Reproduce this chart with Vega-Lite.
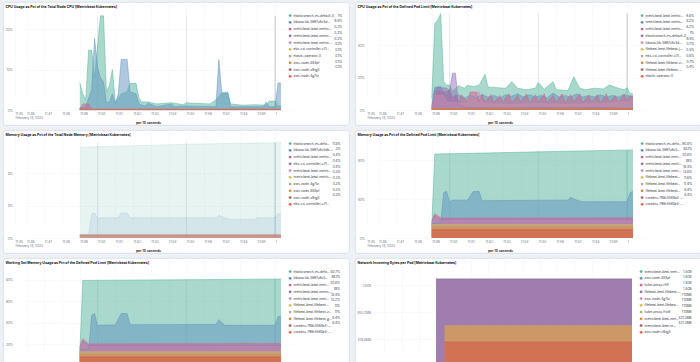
{
  "$schema": "https://vega.github.io/schema/vega-lite/v6.json",
  "background": "#eef1f5",
  "padding": {"left": 2, "right": 2, "top": 1, "bottom": 0},
  "spacing": 3,
  "resolve": {"scale": {"color": "independent", "shape": "independent"}, "legend": {"color": "independent", "shape": "independent"}},
  "config": {
    "font": "Inter",
    "view": {"fill": "#ffffff", "stroke": "#d3dae6", "strokeWidth": 0.8, "cornerRadius": 3},
    "title": {"anchor": "start", "frame": "group", "offset": -6.5, "dx": 2.5, "fontSize": 3.5, "fontWeight": "bold", "color": "#1a1c21", "font": "Inter"},
    "axis": {"domain": false, "ticks": false, "grid": true, "gridColor": "#dfe5ee", "gridDash": [1, 1.5], "gridWidth": 0.5, "labelFontSize": 3.2, "labelColor": "#69707d", "labelFont": "Inter", "titleFont": "Inter"},
    "axisX": {"offset": -15, "labelAlign": "left", "labelBaseline": "top", "labelPadding": 1.5, "labelLineHeight": 3.8, "labelOverlap": false, "labelFlush": false, "titleFontSize": 3.4, "titleFontWeight": "bold", "titleColor": "#343741", "titleY": 12.5, "titleBaseline": "middle"},
    "axisY": {"offset": -12, "labelPadding": 2.5},
    "legend": {"labelFontSize": 3.2, "labelColor": "#343741", "labelFont": "Inter", "rowPadding": 1.75, "padding": 0, "labelLimit": 200, "symbolSize": 8, "symbolType": "circle", "symbolStrokeWidth": 0, "labelOffset": 1.9}
  },
  "datasets": {
    "p1": [
      {"s":"es","t":2940,"v":6.8},{"s":"es","t":2950,"v":4},{"s":"es","t":2960,"v":2.5},{"s":"es","t":2970,"v":14.8},{"s":"es","t":2980,"v":14.8},{"s":"es","t":2990,"v":8},{"s":"es","t":3010,"v":23.3},{"s":"es","t":3020,"v":23.3},{"s":"es","t":3030,"v":4.5},{"s":"es","t":3040,"v":6},{"s":"es","t":3050,"v":10},{"s":"es","t":3060,"v":2},{"s":"es","t":3070,"v":3},{"s":"es","t":3080,"v":4},{"s":"es","t":3100,"v":4.5},{"s":"es","t":3110,"v":6.6},{"s":"es","t":3130,"v":6.6},{"s":"es","t":3140,"v":3},{"s":"es","t":3150,"v":2},{"s":"es","t":3170,"v":2},{"s":"es","t":3200,"v":1.5},{"s":"es","t":3250,"v":1.8},{"s":"es","t":3290,"v":1.3},{"s":"es","t":3300,"v":1.8},{"s":"es","t":3350,"v":1.6},{"s":"es","t":3380,"v":1.5},{"s":"es","t":3400,"v":2.5},{"s":"es","t":3420,"v":4.3},{"s":"es","t":3440,"v":4.4},{"s":"es","t":3450,"v":1.5},{"s":"es","t":3490,"v":1.2},{"s":"es","t":3530,"v":1.3},{"s":"es","t":3570,"v":1.2},{"s":"es","t":3580,"v":2.2},{"s":"es","t":3600,"v":2.2},{"s":"es","t":3610,"v":1},{"s":"es","t":3620,"v":1},
      {"s":"kb","t":2940,"v":0.5},{"s":"kb","t":2960,"v":0.8},{"s":"kb","t":2970,"v":3},{"s":"kb","t":2980,"v":5},{"s":"kb","t":2990,"v":17.7},{"s":"kb","t":3000,"v":10.5},{"s":"kb","t":3010,"v":8},{"s":"kb","t":3020,"v":7},{"s":"kb","t":3030,"v":1.8},{"s":"kb","t":3040,"v":2},{"s":"kb","t":3050,"v":4},{"s":"kb","t":3060,"v":1.5},{"s":"kb","t":3070,"v":4},{"s":"kb","t":3080,"v":12.5},{"s":"kb","t":3100,"v":12.5},{"s":"kb","t":3110,"v":4.5},{"s":"kb","t":3130,"v":4},{"s":"kb","t":3140,"v":1.5},{"s":"kb","t":3160,"v":1},{"s":"kb","t":3170,"v":1.7},{"s":"kb","t":3200,"v":0.8},{"s":"kb","t":3250,"v":1.5},{"s":"kb","t":3260,"v":0.8},{"s":"kb","t":3300,"v":1},{"s":"kb","t":3400,"v":0.8},{"s":"kb","t":3410,"v":12.5},{"s":"kb","t":3420,"v":4},{"s":"kb","t":3440,"v":4.2},{"s":"kb","t":3450,"v":0.8},{"s":"kb","t":3560,"v":0.8},{"s":"kb","t":3570,"v":2},{"s":"kb","t":3580,"v":0.8},{"s":"kb","t":3600,"v":0.8},{"s":"kb","t":3610,"v":6.7},{"s":"kb","t":3620,"v":6.7},
      {"s":"mb1","t":2940,"v":0.3},{"s":"mb1","t":2950,"v":1.5},{"s":"mb1","t":2970,"v":1.5},{"s":"mb1","t":2980,"v":0.2},{"s":"mb1","t":3620,"v":0.2},
      {"s":"mb2","t":2940,"v":0.2},{"s":"mb2","t":3620,"v":0.2},
      {"s":"mb3","t":2940,"v":0.2},{"s":"mb3","t":3620,"v":0.2},
      {"s":"ebs","t":2940,"v":0.1},{"s":"ebs","t":3620,"v":0.1},
      {"s":"eo","t":2940,"v":0.1},{"s":"eo","t":3620,"v":0.1},
      {"s":"aws884","t":2940,"v":0.1},{"s":"aws884","t":3620,"v":0.1},
      {"s":"awss9","t":2940,"v":0.1},{"s":"awss9","t":3620,"v":0.1},
      {"s":"aws4g","t":2940,"v":0.1},{"s":"aws4g","t":3620,"v":0.1}
    ],
    "p2": [
      {"s":"mb1","t":2940,"v":7},{"s":"mb1","t":2950,"v":53.5},{"s":"mb1","t":2960,"v":55.5},{"s":"mb1","t":2970,"v":59.6},{"s":"mb1","t":2980,"v":17.5},{"s":"mb1","t":2990,"v":15.4},{"s":"mb1","t":3000,"v":15.5},{"s":"mb1","t":3010,"v":11.5},{"s":"mb1","t":3030,"v":15},{"s":"mb1","t":3050,"v":13.5},{"s":"mb1","t":3060,"v":15.3},{"s":"mb1","t":3080,"v":14.5},{"s":"mb1","t":3100,"v":15.3},{"s":"mb1","t":3120,"v":22},{"s":"mb1","t":3130,"v":14.3},{"s":"mb1","t":3160,"v":13.8},{"s":"mb1","t":3190,"v":13.5},{"s":"mb1","t":3210,"v":17.5},{"s":"mb1","t":3230,"v":13.5},{"s":"mb1","t":3260,"v":12.5},{"s":"mb1","t":3290,"v":13.5},{"s":"mb1","t":3300,"v":17},{"s":"mb1","t":3320,"v":12.8},{"s":"mb1","t":3350,"v":17.5},{"s":"mb1","t":3360,"v":12.5},{"s":"mb1","t":3400,"v":12},{"s":"mb1","t":3420,"v":20.6},{"s":"mb1","t":3440,"v":13.5},{"s":"mb1","t":3460,"v":12.5},{"s":"mb1","t":3490,"v":13.5},{"s":"mb1","t":3520,"v":13},{"s":"mb1","t":3540,"v":15.4},{"s":"mb1","t":3570,"v":13.5},{"s":"mb1","t":3590,"v":12.5},{"s":"mb1","t":3600,"v":13.8},{"s":"mb1","t":3610,"v":10.3},{"s":"mb1","t":3620,"v":9.8},
      {"s":"mb2","t":2940,"v":3},{"s":"mb2","t":2950,"v":14},{"s":"mb2","t":2970,"v":14.5},{"s":"mb2","t":2990,"v":9},{"s":"mb2","t":3000,"v":13},{"s":"mb2","t":3010,"v":8},{"s":"mb2","t":3030,"v":9.5},{"s":"mb2","t":3050,"v":7.5},{"s":"mb2","t":3070,"v":9},{"s":"mb2","t":3090,"v":7.5},{"s":"mb2","t":3110,"v":9.5},{"s":"mb2","t":3130,"v":8},{"s":"mb2","t":3150,"v":9},{"s":"mb2","t":3170,"v":7.5},{"s":"mb2","t":3190,"v":9.5},{"s":"mb2","t":3210,"v":8.5},{"s":"mb2","t":3230,"v":10},{"s":"mb2","t":3250,"v":8},{"s":"mb2","t":3270,"v":9.5},{"s":"mb2","t":3290,"v":8},{"s":"mb2","t":3310,"v":9},{"s":"mb2","t":3330,"v":7.5},{"s":"mb2","t":3350,"v":10.5},{"s":"mb2","t":3370,"v":8},{"s":"mb2","t":3390,"v":9},{"s":"mb2","t":3410,"v":8},{"s":"mb2","t":3430,"v":10},{"s":"mb2","t":3450,"v":8},{"s":"mb2","t":3470,"v":9},{"s":"mb2","t":3490,"v":8},{"s":"mb2","t":3510,"v":9.5},{"s":"mb2","t":3530,"v":8},{"s":"mb2","t":3550,"v":9},{"s":"mb2","t":3570,"v":8},{"s":"mb2","t":3590,"v":9.5},{"s":"mb2","t":3610,"v":8.5},{"s":"mb2","t":3620,"v":8.2},
      {"s":"mb3","t":2940,"v":2},{"s":"mb3","t":2950,"v":8},{"s":"mb3","t":2960,"v":12},{"s":"mb3","t":2980,"v":11},{"s":"mb3","t":3000,"v":12},{"s":"mb3","t":3010,"v":5},{"s":"mb3","t":3020,"v":10},{"s":"mb3","t":3030,"v":4.5},{"s":"mb3","t":3040,"v":9.5},{"s":"mb3","t":3060,"v":5},{"s":"mb3","t":3070,"v":11},{"s":"mb3","t":3090,"v":11},{"s":"mb3","t":3100,"v":5},{"s":"mb3","t":3110,"v":10},{"s":"mb3","t":3120,"v":5},{"s":"mb3","t":3140,"v":9.5},{"s":"mb3","t":3150,"v":4.5},{"s":"mb3","t":3170,"v":9},{"s":"mb3","t":3180,"v":5},{"s":"mb3","t":3200,"v":10},{"s":"mb3","t":3210,"v":4.5},{"s":"mb3","t":3230,"v":9},{"s":"mb3","t":3240,"v":5},{"s":"mb3","t":3260,"v":10},{"s":"mb3","t":3270,"v":4.5},{"s":"mb3","t":3290,"v":9.5},{"s":"mb3","t":3300,"v":5},{"s":"mb3","t":3320,"v":10},{"s":"mb3","t":3330,"v":4.5},{"s":"mb3","t":3350,"v":9},{"s":"mb3","t":3360,"v":5},{"s":"mb3","t":3380,"v":10},{"s":"mb3","t":3390,"v":4.5},{"s":"mb3","t":3410,"v":9.5},{"s":"mb3","t":3420,"v":5},{"s":"mb3","t":3440,"v":10},{"s":"mb3","t":3450,"v":4.5},{"s":"mb3","t":3470,"v":9},{"s":"mb3","t":3480,"v":5},{"s":"mb3","t":3500,"v":9.5},{"s":"mb3","t":3510,"v":4.5},{"s":"mb3","t":3530,"v":10},{"s":"mb3","t":3540,"v":5},{"s":"mb3","t":3560,"v":9},{"s":"mb3","t":3570,"v":4.5},{"s":"mb3","t":3590,"v":10},{"s":"mb3","t":3600,"v":5},{"s":"mb3","t":3610,"v":9},{"s":"mb3","t":3620,"v":8.2},
      {"s":"es","t":2940,"v":1},{"s":"es","t":2950,"v":12},{"s":"es","t":2960,"v":14},{"s":"es","t":2990,"v":13.5},{"s":"es","t":3000,"v":12},{"s":"es","t":3010,"v":22.8},{"s":"es","t":3020,"v":22.8},{"s":"es","t":3030,"v":3},{"s":"es","t":3060,"v":1.5},{"s":"es","t":3200,"v":1.2},{"s":"es","t":3300,"v":1.5},{"s":"es","t":3400,"v":1.2},{"s":"es","t":3500,"v":1.5},{"s":"es","t":3620,"v":1},
      {"s":"kb","t":2940,"v":1},{"s":"kb","t":2950,"v":9},{"s":"kb","t":2980,"v":9},{"s":"kb","t":2990,"v":5},{"s":"kb","t":3060,"v":4},{"s":"kb","t":3070,"v":11},{"s":"kb","t":3100,"v":11},{"s":"kb","t":3110,"v":4},{"s":"kb","t":3200,"v":3.5},{"s":"kb","t":3300,"v":4},{"s":"kb","t":3400,"v":3.5},{"s":"kb","t":3500,"v":4},{"s":"kb","t":3600,"v":5},{"s":"kb","t":3620,"v":6.5},
      {"s":"fbj","t":2940,"v":0.7},{"s":"fbj","t":3620,"v":0.7},
      {"s":"ebs","t":2940,"v":0.5},{"s":"ebs","t":3620,"v":0.5},
      {"s":"fbz","t":2940,"v":0.8},{"s":"fbz","t":3620,"v":0.8},
      {"s":"fbx","t":2940,"v":0.7},{"s":"fbx","t":3620,"v":0.7},
      {"s":"eo","t":2940,"v":0.4},{"s":"eo","t":3620,"v":0.4}
    ],
    "p3": [
      {"s":"es","t":2940,"v":11.2},{"s":"es","t":3000,"v":11.3},{"s":"es","t":3300,"v":11.6},{"s":"es","t":3620,"v":11.8},
      {"s":"kb","t":2940,"v":0.4},{"s":"kb","t":2970,"v":0.4},{"s":"kb","t":2980,"v":3},{"s":"kb","t":2990,"v":3.1},{"s":"kb","t":3000,"v":2.4},{"s":"kb","t":3010,"v":2.5},{"s":"kb","t":3070,"v":2.5},{"s":"kb","t":3080,"v":3.1},{"s":"kb","t":3100,"v":3.1},{"s":"kb","t":3110,"v":2.5},{"s":"kb","t":3400,"v":2.5},{"s":"kb","t":3410,"v":2.8},{"s":"kb","t":3430,"v":2.5},{"s":"kb","t":3450,"v":2.3},{"s":"kb","t":3530,"v":2.3},{"s":"kb","t":3540,"v":2.5},{"s":"kb","t":3600,"v":2.5},{"s":"kb","t":3610,"v":3},{"s":"kb","t":3620,"v":3},
      {"s":"mb1","t":2940,"v":0.45},{"s":"mb1","t":3620,"v":0.45},
      {"s":"ebs","t":2940,"v":0.4},{"s":"ebs","t":3620,"v":0.4},
      {"s":"mb2","t":2940,"v":0.4},{"s":"mb2","t":3620,"v":0.4},
      {"s":"mb3","t":2940,"v":0.35},{"s":"mb3","t":3620,"v":0.35},
      {"s":"aws4g","t":2940,"v":0.3},{"s":"aws4g","t":3620,"v":0.3},
      {"s":"aws884","t":2940,"v":0.3},{"s":"aws884","t":3620,"v":0.3},
      {"s":"awss9","t":2940,"v":0.3},{"s":"awss9","t":3620,"v":0.3},
      {"s":"ebs2","t":2940,"v":0.3},{"s":"ebs2","t":3620,"v":0.3}
    ],
    "p4": [
      {"s":"es","t":2940,"v":12},{"s":"es","t":2950,"v":86.5},{"s":"es","t":3300,"v":88.8},{"s":"es","t":3620,"v":90.8},
      {"s":"kb","t":2940,"v":15},{"s":"kb","t":2970,"v":15},{"s":"kb","t":2980,"v":46.7},{"s":"kb","t":2990,"v":48},{"s":"kb","t":3000,"v":37.4},{"s":"kb","t":3010,"v":39},{"s":"kb","t":3060,"v":39},{"s":"kb","t":3080,"v":48},{"s":"kb","t":3100,"v":48},{"s":"kb","t":3110,"v":38.5},{"s":"kb","t":3400,"v":39},{"s":"kb","t":3410,"v":42},{"s":"kb","t":3430,"v":39},{"s":"kb","t":3450,"v":37.4},{"s":"kb","t":3600,"v":37.4},{"s":"kb","t":3610,"v":46.7},{"s":"kb","t":3620,"v":48.1},
      {"s":"mb1","t":2940,"v":18},{"s":"mb1","t":2950,"v":25},{"s":"mb1","t":2970,"v":21},{"s":"mb1","t":2980,"v":20.5},{"s":"mb1","t":3620,"v":20.8},
      {"s":"mb2","t":2940,"v":17},{"s":"mb2","t":2950,"v":23},{"s":"mb2","t":2970,"v":19},{"s":"mb2","t":3620,"v":19},
      {"s":"mb3","t":2940,"v":16},{"s":"mb3","t":2950,"v":22},{"s":"mb3","t":2970,"v":18.5},{"s":"mb3","t":3620,"v":18.5},
      {"s":"fb1","t":2940,"v":13.8},{"s":"fb1","t":3620,"v":13.8},
      {"s":"fb2","t":2940,"v":11.6},{"s":"fb2","t":3620,"v":11.6},
      {"s":"fb3","t":2940,"v":11.4},{"s":"fb3","t":3620,"v":11.4},
      {"s":"cd1","t":2940,"v":8.4},{"s":"cd1","t":3620,"v":8.4},
      {"s":"cd2","t":2940,"v":8.4},{"s":"cd2","t":3620,"v":8.4}
    ],
    "p5": [
      {"s":"es","t":2940,"v":11},{"s":"es","t":2950,"v":79.4},{"s":"es","t":3620,"v":80.7},
      {"s":"kb","t":2940,"v":15},{"s":"kb","t":2970,"v":15},{"s":"kb","t":2980,"v":47},{"s":"kb","t":2990,"v":48.6},{"s":"kb","t":3000,"v":37.3},{"s":"kb","t":3010,"v":38},{"s":"kb","t":3060,"v":38},{"s":"kb","t":3080,"v":48.6},{"s":"kb","t":3100,"v":48.6},{"s":"kb","t":3110,"v":38.3},{"s":"kb","t":3400,"v":38.5},{"s":"kb","t":3410,"v":43},{"s":"kb","t":3430,"v":37.7},{"s":"kb","t":3600,"v":37.7},{"s":"kb","t":3610,"v":46},{"s":"kb","t":3620,"v":46.1},
      {"s":"mb1","t":2940,"v":18},{"s":"mb1","t":2950,"v":25.3},{"s":"mb1","t":2970,"v":20.5},{"s":"mb1","t":3620,"v":20.8},
      {"s":"mb2","t":2940,"v":17},{"s":"mb2","t":2950,"v":23},{"s":"mb2","t":2970,"v":19},{"s":"mb2","t":3620,"v":19},
      {"s":"mb3","t":2940,"v":16},{"s":"mb3","t":2950,"v":22},{"s":"mb3","t":2970,"v":18.5},{"s":"mb3","t":3620,"v":18.5},
      {"s":"fb1","t":2940,"v":13.2},{"s":"fb1","t":3620,"v":13.2},
      {"s":"fbz","t":2940,"v":11},{"s":"fbz","t":3620,"v":11},
      {"s":"fbg","t":2940,"v":11},{"s":"fbg","t":3620,"v":11},
      {"s":"cd1","t":2940,"v":8.4},{"s":"cd1","t":3620,"v":8.4},
      {"s":"cd2","t":2940,"v":8.4},{"s":"cd2","t":3620,"v":8.4}
    ],
    "p6": [
      {"s":"mbm","t":2940,"v":1610612736},{"s":"mbm","t":3620,"v":1610612736},
      {"s":"aws884","t":2940,"v":1610612736},{"s":"aws884","t":3620,"v":1610612736},
      {"s":"kpr","t":2940,"v":1610612736},{"s":"kpr","t":3620,"v":1610612736},
      {"s":"fb","t":2940,"v":1610612736},{"s":"fb","t":3620,"v":1610612736},
      {"s":"aws4g","t":2970,"v":744488960},{"s":"aws4g","t":3620,"v":744488960},
      {"s":"fb2","t":2970,"v":744488960},{"s":"fb2","t":3620,"v":744488960},
      {"s":"kpf","t":2970,"v":744488960},{"s":"kpf","t":3620,"v":744488960},
      {"s":"mbm2","t":2970,"v":744488960},{"s":"mbm2","t":3620,"v":744488960},
      {"s":"mbm3","t":2970,"v":441764659},{"s":"mbm3","t":3620,"v":441764659},
      {"s":"awss9","t":2970,"v":441764659},{"s":"awss9","t":3620,"v":441764659}
    ]
  },
  "vconcat": [
    {"spacing": 4, "resolve": {"scale": {"color": "independent", "shape": "independent"}, "legend": {"color": "independent", "shape": "independent"}}, "hconcat": [
      {
        "width": 346, "height": 123,
        "title": "CPU Usage as Pct of the Total Node CPU [Metricbeat Kubernetes]",
        "data": {"name": "p1"},
        "encoding": {"x": {"field": "t", "type": "quantitative", "scale": {"domain": [2721, 3620], "range": [12, 278]}, "axis": {"values": [2721,2760,2820,2880,2940,3000,3060,3120,3180,3240,3300,3360,3420,3480,3540,3600], "labelExpr": "datum.value==2721?['11:45','February 14, 2023']:datum.value==3600?'1':'11:'+datum.value/60", "title": "per 10 seconds"}}},
        "layer": [
          {"data": {"values": [{"t":3000},{"t":3300},{"t":3600}]}, "mark": {"type": "rule", "strokeWidth": 0.6}, "encoding": {"y": {"datum": 0}, "y2": {"datum": 23.3}, "color": {"condition": {"test": "datum.t==3600", "value": "#98a2b3"}, "value": "#d3dae6"}}},
          {"mark": {"type": "area", "fillOpacity": 0.5, "line": {"strokeWidth": 0.5}},
           "encoding": {
             "y": {"field": "v", "type": "quantitative", "stack": null, "scale": {"domain": [0, 23.3], "range": [108, 11]}, "axis": {"values": [0,5,10,15,20], "labelExpr": "datum.value+'%'", "title": null}},
             "color": {"field": "s", "type": "nominal", "scale": {"domain": ["es","kb","mb1","mb2","mb3","ebs","eo","aws884","awss9","aws4g"], "range": ["#54B399","#6092C0","#D36086","#9170B8","#CA8EAE","#D6BF57","#B9A888","#DA8B45","#AA6556","#E7664C"]},
               "legend": {"orient": "none", "legendX": 285.5, "legendY": 12, "title": null, "labelExpr": "({'es':'elasticsearch-es-default-0','kb':'kibana-kb-5697c6c5d…','mb1':'metricbeat-beat-metric…','mb2':'metricbeat-beat-metric…','mb3':'metricbeat-beat-metric…','ebs':'ebs-csi-controller-c7f…','eo':'elastic-operator-0','aws884':'aws-node-884pf','awss9':'aws-node-s9vg5','aws4g':'aws-node-4g7tz'})[datum.label]"}}
           }},
          {"mark": {"type": "point", "opacity": 0},
           "encoding": {
             "y": {"field": "v", "type": "quantitative"},
             "shape": {"field": "s", "type": "nominal", "scale": {"domain": ["aws4g","awss9","aws884","eo","ebs","mb3","mb2","mb1","kb","es"]},
               "legend": {"orient": "none", "legendX": 336, "legendY": 12, "title": null, "values": ["es","kb","mb1","mb2","mb3","ebs","eo","aws884","awss9","aws4g"], "labelAlign": "right", "labelOffset": 0, "symbolSize": 0, "labelExpr": "({'es':'1%','kb':'6.5%','mb1':'0.2%','mb2':'0.2%','mb3':'0.2%','ebs':'0.1%','eo':'0.1%','aws884':'0.1%','awss9':'0.1%','aws4g':'0.1%'})[datum.label]"}}
           }}
        ]
      },
      {
        "width": 346, "height": 123,
        "title": "CPU Usage as Pct of the Defined Pod Limit [Metricbeat Kubernetes]",
        "data": {"name": "p2"},
        "encoding": {"x": {"field": "t", "type": "quantitative", "scale": {"domain": [2721, 3620], "range": [12, 278]}, "axis": {"values": [2721,2760,2820,2880,2940,3000,3060,3120,3180,3240,3300,3360,3420,3480,3540,3600], "labelExpr": "datum.value==2721?['11:45','February 14, 2023']:datum.value==3600?'1':'11:'+datum.value/60", "title": "per 10 seconds"}}},
        "layer": [
          {"data": {"values": [{"t":3000},{"t":3300},{"t":3600}]}, "mark": {"type": "rule", "strokeWidth": 0.6}, "encoding": {"y": {"datum": 0}, "y2": {"datum": 59.6}, "color": {"condition": {"test": "datum.t==3600", "value": "#98a2b3"}, "value": "#d3dae6"}}},
          {"mark": {"type": "area", "fillOpacity": 0.5, "line": {"strokeWidth": 0.5}},
           "encoding": {
             "y": {"field": "v", "type": "quantitative", "stack": null, "scale": {"domain": [0, 59.6], "range": [108, 11]}, "axis": {"values": [0,10,20,30,40,50], "labelExpr": "datum.value+'%'", "title": null}},
             "color": {"field": "s", "type": "nominal", "scale": {"domain": ["mb1","mb2","mb3","es","kb","fbj","ebs","fbz","fbx","eo"], "range": ["#54B399","#6092C0","#D36086","#9170B8","#CA8EAE","#D6BF57","#B9A888","#DA8B45","#AA6556","#E7664C"]},
               "legend": {"orient": "none", "legendX": 285.5, "legendY": 12, "title": null, "labelExpr": "({'mb1':'metricbeat-beat-metric…','mb2':'metricbeat-beat-metric…','mb3':'metricbeat-beat-metric…','es':'elasticsearch-es-default-0','kb':'kibana-kb-5697c6c5d…','fbj':'filebeat-beat-filebeat-j…','ebs':'ebs-csi-controller-c7f…','fbz':'filebeat-beat-filebeat-z…','fbx':'filebeat-beat-filebeat-…','eo':'elastic-operator-0'})[datum.label]"}}
           }},
          {"mark": {"type": "point", "opacity": 0},
           "encoding": {
             "y": {"field": "v", "type": "quantitative"},
             "shape": {"field": "s", "type": "nominal", "scale": {"domain": ["eo","fbx","fbz","ebs","fbj","kb","es","mb3","mb2","mb1"]},
               "legend": {"orient": "none", "legendX": 336, "legendY": 12, "title": null, "values": ["mb1","mb2","mb3","es","kb","fbj","ebs","fbz","fbx","eo"], "labelAlign": "right", "labelOffset": 0, "symbolSize": 0, "labelExpr": "({'mb1':'9.8%','mb2':'8.2%','mb3':'8.2%','es':'1%','kb':'6.5%','fbj':'0.7%','ebs':'0.5%','fbz':'0.8%','fbx':'0.7%','eo':'0.4%'})[datum.label]"}}
           }}
        ]
      }
    ]},
    {"spacing": 4, "resolve": {"scale": {"color": "independent", "shape": "independent"}, "legend": {"color": "independent", "shape": "independent"}}, "hconcat": [
      {
        "width": 346, "height": 123,
        "title": "Memory Usage as Pct of the Total Node Memory [Metricbeat Kubernetes]",
        "data": {"name": "p3"},
        "encoding": {"x": {"field": "t", "type": "quantitative", "scale": {"domain": [2721, 3620], "range": [12, 278]}, "axis": {"values": [2721,2760,2820,2880,2940,3000,3060,3120,3180,3240,3300,3360,3420,3480,3540,3600], "labelExpr": "datum.value==2721?['11:45','February 14, 2023']:datum.value==3600?'1':'11:'+datum.value/60", "title": "per 10 seconds"}}},
        "layer": [
          {"data": {"values": [{"t":3000},{"t":3300},{"t":3600}]}, "mark": {"type": "rule", "strokeWidth": 0.6}, "encoding": {"y": {"datum": 0}, "y2": {"datum": 11.8}, "color": {"condition": {"test": "datum.t==3600", "value": "#98a2b3"}, "value": "#d3dae6"}}},
          {"mark": {"type": "area", "fillOpacity": 0.14, "line": {"strokeWidth": 0.5, "strokeOpacity": 0.3}},
           "encoding": {
             "y": {"field": "v", "type": "quantitative", "stack": null, "scale": {"domain": [0, 11.8], "range": [108, 11]}, "axis": {"values": [0,2,4,6,8,10], "labelExpr": "datum.value+'%'", "title": null}},
             "color": {"field": "s", "type": "nominal", "scale": {"domain": ["es","kb","mb1","ebs","mb2","mb3","aws4g","aws884","awss9","ebs2"], "range": ["#54B399","#6092C0","#D36086","#9170B8","#CA8EAE","#D6BF57","#B9A888","#DA8B45","#AA6556","#E7664C"]},
               "legend": {"orient": "none", "legendX": 285.5, "legendY": 12, "title": null, "labelExpr": "({'es':'elasticsearch-es-defa…','kb':'kibana-kb-5697c6c5db-…','mb1':'metricbeat-beat-metric…','ebs':'ebs-csi-controller-c7f…','mb2':'metricbeat-beat-metric…','mb3':'metricbeat-beat-metric…','aws4g':'aws-node-4g7tz','aws884':'aws-node-884pf','awss9':'aws-node-s9vg5','ebs2':'ebs-csi-controller-c7f…'})[datum.label]"}}
           }},
          {"mark": {"type": "point", "opacity": 0},
           "encoding": {
             "y": {"field": "v", "type": "quantitative"},
             "shape": {"field": "s", "type": "nominal", "scale": {"domain": ["ebs2","awss9","aws884","aws4g","mb3","mb2","ebs","mb1","kb","es"]},
               "legend": {"orient": "none", "legendX": 334.5, "legendY": 12, "title": null, "values": ["es","kb","mb1","ebs","mb2","mb3","aws4g","aws884","awss9","ebs2"], "labelAlign": "right", "labelOffset": 0, "symbolSize": 0, "labelExpr": "({'es':'11.8%','kb':'3%','mb1':'0.4%','ebs':'0.4%','mb2':'0.4%','mb3':'0.3%','aws4g':'0.3%','aws884':'0.3%','awss9':'0.3%','ebs2':'0.3%'})[datum.label]"}}
           }}
        ]
      },
      {
        "width": 346, "height": 123,
        "title": "Memory Usage as Pct of the Defined Pod Limit [Metricbeat Kubernetes]",
        "data": {"name": "p4"},
        "encoding": {"x": {"field": "t", "type": "quantitative", "scale": {"domain": [2721, 3620], "range": [12, 278]}, "axis": {"values": [2721,2760,2820,2880,2940,3000,3060,3120,3180,3240,3300,3360,3420,3480,3540,3600], "labelExpr": "datum.value==2721?['11:45','February 14, 2023']:datum.value==3600?'1':'11:'+datum.value/60", "title": "per 10 seconds"}}},
        "layer": [
          {"data": {"values": [{"t":3000},{"t":3300},{"t":3600}]}, "mark": {"type": "rule", "strokeWidth": 0.6}, "encoding": {"y": {"datum": 0}, "y2": {"datum": 90.8}, "color": {"condition": {"test": "datum.t==3600", "value": "#98a2b3"}, "value": "#d3dae6"}}},
          {"mark": {"type": "area", "fillOpacity": 0.5, "line": {"strokeWidth": 0.5}},
           "encoding": {
             "y": {"field": "v", "type": "quantitative", "stack": null, "scale": {"domain": [0, 90.8], "range": [108, 11]}, "axis": {"values": [0,20,40,60,80], "labelExpr": "datum.value+'%'", "title": null}},
             "color": {"field": "s", "type": "nominal", "scale": {"domain": ["es","kb","mb1","mb2","mb3","fb1","fb2","fb3","cd1","cd2"], "range": ["#54B399","#6092C0","#D36086","#9170B8","#CA8EAE","#D6BF57","#B9A888","#DA8B45","#AA6556","#E7664C"]},
               "legend": {"orient": "none", "legendX": 285.5, "legendY": 12, "title": null, "labelExpr": "({'es':'elasticsearch-es-defa…','kb':'kibana-kb-5697c6c5…','mb1':'metricbeat-beat-metr…','mb2':'metricbeat-beat-metri…','mb3':'metricbeat-beat-metr…','fb1':'filebeat-beat-filebeat…','fb2':'filebeat-beat-filebeat…','fb3':'filebeat-beat-filebeat…','cd1':'coredns-799c5565b4-…','cd2':'coredns-799c5565b4-…'})[datum.label]"}}
           }},
          {"mark": {"type": "point", "opacity": 0},
           "encoding": {
             "y": {"field": "v", "type": "quantitative"},
             "shape": {"field": "s", "type": "nominal", "scale": {"domain": ["cd2","cd1","fb3","fb2","fb1","mb3","mb2","mb1","kb","es"]},
               "legend": {"orient": "none", "legendX": 334, "legendY": 12, "title": null, "values": ["es","kb","mb1","mb2","mb3","fb1","fb2","fb3","cd1","cd2"], "labelAlign": "right", "labelOffset": 0, "symbolSize": 0, "labelExpr": "({'es':'90.8%','kb':'48.1%','mb1':'20.8%','mb2':'19%','mb3':'18.5%','fb1':'13.8%','fb2':'11.6%','fb3':'11.4%','cd1':'8.4%','cd2':'8.4%'})[datum.label]"}}
           }}
        ]
      }
    ]},
    {"spacing": 4, "resolve": {"scale": {"color": "independent", "shape": "independent"}, "legend": {"color": "independent", "shape": "independent"}}, "hconcat": [
      {
        "width": 346, "height": 123,
        "title": "Working Set Memory Usage as Pct of the Defined Pod Limit [Metricbeat Kubernetes]",
        "data": {"name": "p5"},
        "encoding": {"x": {"field": "t", "type": "quantitative", "scale": {"domain": [2721, 3620], "range": [12, 278]}, "axis": {"values": [2760,2820,2880,2940,3000,3060,3120,3180,3240,3300,3360,3420,3480,3540,3600], "labels": false, "title": null}}},
        "layer": [
          {"data": {"values": [{"t":3000},{"t":3300},{"t":3600}]}, "mark": {"type": "rule", "strokeWidth": 0.6}, "encoding": {"y": {"datum": 0}, "y2": {"datum": 81}, "color": {"condition": {"test": "datum.t==3600", "value": "#98a2b3"}, "value": "#d3dae6"}}},
          {"mark": {"type": "area", "fillOpacity": 0.5, "line": {"strokeWidth": 0.5}},
           "encoding": {
             "y": {"field": "v", "type": "quantitative", "stack": null, "scale": {"domain": [0, 81], "range": [108, 11]}, "axis": {"values": [20,40,60,80], "labelExpr": "datum.value+'%'", "title": null}},
             "color": {"field": "s", "type": "nominal", "scale": {"domain": ["es","kb","mb1","mb2","mb3","fb1","fbz","fbg","cd1","cd2"], "range": ["#54B399","#6092C0","#D36086","#9170B8","#CA8EAE","#D6BF57","#B9A888","#DA8B45","#AA6556","#E7664C"]},
               "legend": {"orient": "none", "legendX": 285.5, "legendY": 12, "title": null, "labelExpr": "({'es':'elasticsearch-es-defa…','kb':'kibana-kb-5697c6c5…','mb1':'metricbeat-beat-metr…','mb2':'metricbeat-beat-metric…','mb3':'metricbeat-beat-metr…','fb1':'filebeat-beat-filebeat…','fbz':'filebeat-beat-filebeat-z…','fbg':'filebeat-beat-filebeat-g…','cd1':'coredns-799c5565b4-…','cd2':'coredns-799c5565b4-…'})[datum.label]"}}
           }},
          {"mark": {"type": "point", "opacity": 0},
           "encoding": {
             "y": {"field": "v", "type": "quantitative"},
             "shape": {"field": "s", "type": "nominal", "scale": {"domain": ["cd2","cd1","fbg","fbz","fb1","mb3","mb2","mb1","kb","es"]},
               "legend": {"orient": "none", "legendX": 334, "legendY": 12, "title": null, "values": ["es","kb","mb1","mb2","mb3","fb1","fbz","fbg","cd1","cd2"], "labelAlign": "right", "labelOffset": 0, "symbolSize": 0, "labelExpr": "({'es':'80.7%','kb':'46.1%','mb1':'20.8%','mb2':'19%','mb3':'18.5%','fb1':'13.2%','fbz':'11%','fbg':'11%','cd1':'8.4%','cd2':'8.4%'})[datum.label]"}}
           }}
        ]
      },
      {
        "width": 346, "height": 123,
        "title": "Network Incoming Bytes per Pod [Metricbeat Kubernetes]",
        "data": {"name": "p6"},
        "encoding": {"x": {"field": "t", "type": "quantitative", "scale": {"domain": [2721, 3620], "range": [18, 277]}, "axis": {"values": [2760,2820,2880,2940,3000,3060,3120,3180,3240,3300,3360,3420,3480,3540,3600], "labels": false, "title": null}}},
        "layer": [
          {"mark": {"type": "area", "fillOpacity": 0.5, "line": {"strokeWidth": 0.5}},
           "encoding": {
             "y": {"field": "v", "type": "quantitative", "stack": null, "scale": {"domain": [0, 1660000000], "range": [108, 11]}, "axis": {"values": [500000000,1000000000,1500000000], "labelExpr": "datum.value==500000000?'476.8MB':datum.value==1000000000?'953.7MB':'1.4GB'", "title": null, "offset": -18}},
             "color": {"field": "s", "type": "nominal", "scale": {"domain": ["mbm","aws884","kpr","fb","aws4g","fb2","kpf","mbm2","mbm3","awss9"], "range": ["#54B399","#6092C0","#D36086","#9170B8","#CA8EAE","#D6BF57","#B9A888","#DA8B45","#AA6556","#E7664C"]},
               "legend": {"orient": "none", "legendX": 284.5, "legendY": 12, "title": null, "labelExpr": "({'mbm':'metricbeat-beat-metr…','aws884':'aws-node-884pf','kpr':'kube-proxy-rftlf','fb':'filebeat-beat-filebeat-…','aws4g':'aws-node-4g7tz','fb2':'filebeat-beat-filebea…','kpf':'kube-proxy-ftvdf','mbm2':'metricbeat-beat-met…','mbm3':'metricbeat-beat-m…','awss9':'aws-node-s9vg5'})[datum.label]"}}
           }},
          {"mark": {"type": "point", "opacity": 0},
           "encoding": {
             "y": {"field": "v", "type": "quantitative"},
             "shape": {"field": "s", "type": "nominal", "scale": {"domain": ["awss9","mbm3","mbm2","kpf","fb2","aws4g","fb","kpr","aws884","mbm"]},
               "legend": {"orient": "none", "legendX": 333.5, "legendY": 12, "title": null, "values": ["mbm","aws884","kpr","fb","aws4g","fb2","kpf","mbm2","mbm3","awss9"], "labelAlign": "right", "labelOffset": 0, "symbolSize": 0, "labelExpr": "({'mbm':'1.5GB','aws884':'1.5GB','kpr':'1.5GB','fb':'1.5GB','aws4g':'710MB','fb2':'710MB','kpf':'710MB','mbm2':'710MB','mbm3':'421.3MB','awss9':'421.3MB'})[datum.label]"}}
           }}
        ]
      }
    ]}
  ]
}
